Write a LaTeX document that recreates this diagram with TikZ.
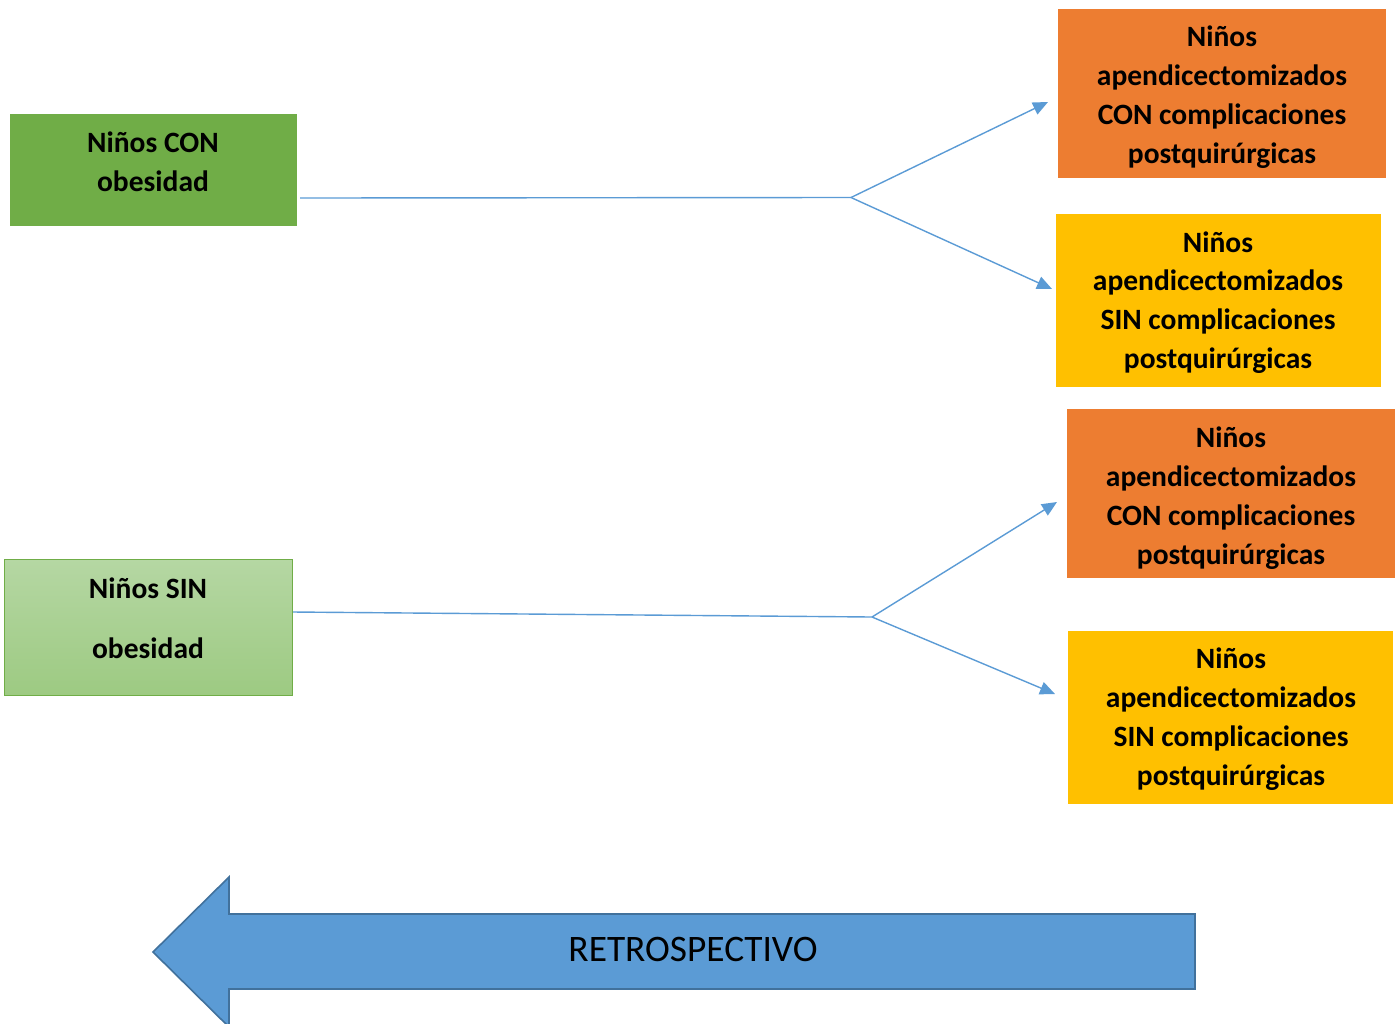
\documentclass[tikz,border=0pt]{standalone}
\usepackage{fontspec}
\setmainfont{Carlito}
\usetikzlibrary{arrows.meta}
\definecolor{cgreen}{HTML}{70AD47}
\definecolor{lgtop}{HTML}{B5D7A3}
\definecolor{lgbot}{HTML}{9DCA82}
\definecolor{corange}{HTML}{ED7D31}
\definecolor{cyellow}{HTML}{FFC000}
\definecolor{cblue}{HTML}{5B9BD5}
\definecolor{cblueb}{HTML}{41719C}
\begin{document}
\begin{tikzpicture}[x=0.5pt,y=-0.5pt,
  box/.style={rectangle, inner sep=0pt, outer sep=0pt},
  txt/.style={align=center, font=\fontsize{14.75pt}{19.4pt}\selectfont\bfseries, inner sep=0pt},
  conn/.style={draw=cblue, line width=0.7pt},
  arr/.style={conn, -{Triangle[length=7.5pt, width=6.5pt]}}]
\useasboundingbox (0,0) rectangle (1395,1023);
% boxes
\node[box, fill=cgreen, minimum width=143.5pt, minimum height=56pt] (g1) at (153.5,170) {};
\node[box, top color=lgtop, bottom color=lgbot, draw=cgreen, line width=0.5pt, minimum width=144pt, minimum height=68pt] (g2) at (148,627) {};
\node[box, fill=corange, minimum width=164pt, minimum height=84.5pt] (o1) at (1222,93.5) {};
\node[box, fill=cyellow, minimum width=162.5pt, minimum height=86.5pt] (y1) at (1218.5,300.5) {};
\node[box, fill=corange, minimum width=164pt, minimum height=84.5pt] (o2) at (1231,493.5) {};
\node[box, fill=cyellow, minimum width=162.5pt, minimum height=86.5pt] (y2) at (1230.5,717.5) {};
% texts
\node[txt] (g1t) at (153,162) {Niños CON\\obesidad};
\node[txt, font=\fontsize{14.75pt}{30pt}\selectfont\bfseries] (g2t) at (148,618) {Niños SIN\\obesidad};
\node[txt] (o1t) at (1222,97) {Niños\\apendicectomizados\\CON complicaciones\\postquirúrgicas};
\node[txt] (y1t) at (1218,302.5) {Niños\\apendicectomizados\\SIN complicaciones\\postquirúrgicas};
\node[txt] (o2t) at (1231,498) {Niños\\apendicectomizados\\CON complicaciones\\postquirúrgicas};
\node[txt] (y2t) at (1231,719) {Niños\\apendicectomizados\\SIN complicaciones\\postquirúrgicas};
% connectors
\coordinate (s1) at (300,198);
\coordinate (j1) at (851,197.5);
\coordinate (e1a) at (1048,102);
\coordinate (e1b) at (1052,289);
\coordinate (s2) at (293,612);
\coordinate (j2) at (872,617);
\coordinate (e2a) at (1057,502);
\coordinate (e2b) at (1055,694);
\draw[conn] (s1) -- (j1);
\draw[arr] (j1) -- (e1a);
\draw[arr] (j1) -- (e1b);
\draw[conn] (s2) -- (j2);
\draw[arr] (j2) -- (e2a);
\draw[arr] (j2) -- (e2b);
% big arrow
\begin{scope}
\clip (0,0) rectangle (1395,1023);
\draw[fill=cblue, draw=cblueb, line width=0.8pt] (153,952) -- (229,877) -- (229,914) -- (1195,914) -- (1195,989) -- (229,989) -- (229,1027) -- cycle;
\end{scope}
\node[inner sep=0pt, font=\fontsize{18.7pt}{21pt}\selectfont] (retro) at (693,949) {RETROSPECTIVO};
\end{tikzpicture}
\end{document}
